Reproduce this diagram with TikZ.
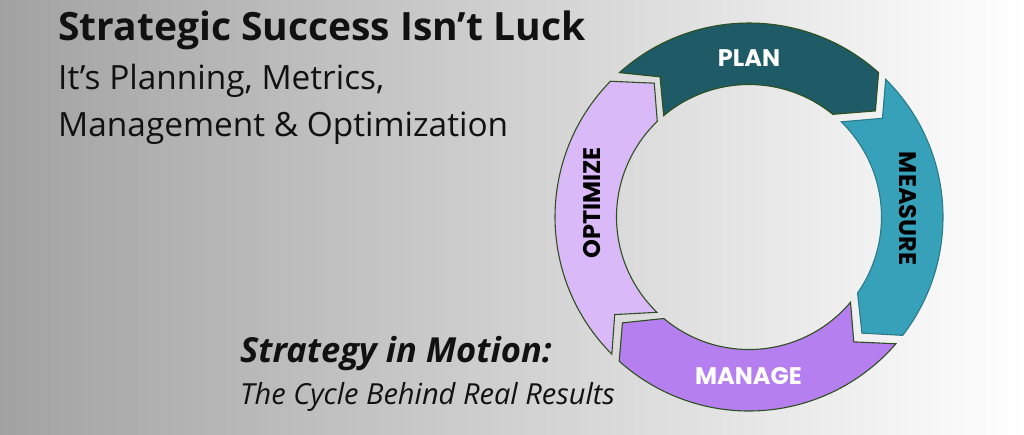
\documentclass[tikz,border=0pt]{standalone}
\usepackage{fontspec}
\setmainfont{Open Sans}
\newfontfamily\pop{Poppins}
\definecolor{bgl}{HTML}{A2A2A2}
\definecolor{plan}{HTML}{1F5B66}
\definecolor{measure}{HTML}{37A1B9}
\definecolor{manage}{HTML}{B67FEF}
\definecolor{optim}{HTML}{D9B9F8}
\definecolor{edgegreen}{HTML}{2E5020}
\definecolor{edgeteal}{HTML}{2A7A8A}
\definecolor{ink}{HTML}{111111}
\tikzset{
  seg/.style={draw=edgegreen, line width=1.1pt, line join=miter},
  lab/.style={font=\pop\bfseries\fontsize{24}{28}\selectfont, inner sep=0pt},
  title/.style={anchor=base west, inner sep=0pt, text=ink},
}
\begin{document}
\begin{tikzpicture}[x=1pt,y=1pt]
\shade[left color=bgl, right color=white] (0,0) rectangle (1024,-434);
\useasboundingbox (0,0) rectangle (1024,-434);
\begin{scope}[shift={(749,-217)}]
  % PLAN
  \filldraw[seg, fill=plan] (131.9:194) arc[start angle=131.9, end angle=48.1, radius=194]
    -- (40:165) -- (50.8:132.5) arc[start angle=50.8, end angle=130.1, radius=132.5]
    -- (122.4:166) -- cycle;
  % MEASURE
  \filldraw[seg, draw=edgeteal, fill=measure] (45.2:194) arc[start angle=45.2, end angle=-37.6, radius=194]
    -- (-45.8:162) -- (-35:132.5) arc[start angle=-35, end angle=45.9, radius=132.5]
    -- (36.5:166) -- cycle;
  % MANAGE
  \filldraw[seg, fill=manage] (-40.8:194) arc[start angle=-40.8, end angle=-132, radius=194]
    -- (-140.1:165) -- (-130:132.5) arc[start angle=-130, end angle=-40, radius=132.5]
    -- (-50:163) -- cycle;
  % OPTIMIZE
  \filldraw[seg, fill=optim] (225:194) arc[start angle=225, end angle=135.6, radius=194]
    -- (125.3:164) -- (133.8:132.5) arc[start angle=133.8, end angle=226, radius=132.5]
    -- (216:166) -- cycle;
\end{scope}
\node[lab, text=white] (plan) at (749,-58.5) {PLAN};
\node[lab, text=black, rotate=-90] (measure) at (907.5,-208.5) {MEASURE};
\node[lab, text=white] (manage) at (748.5,-376.5) {MANAGE};
\node[lab, text=black, rotate=90] (optimize) at (592,-203) {OPTIMIZE};
\node[title, font=\bfseries\fontsize{39}{44}\selectfont] (t1) at (58,-40) {Strategic Success Isn’t Luck};
\node[title, font=\fontsize{33.4}{38}\selectfont] (t2) at (58,-89) {It’s Planning, Metrics,};
\node[title, font=\fontsize{33.4}{38}\selectfont] (t3) at (58,-136) {Management \& Optimization};
\node[title, font=\bfseries\itshape\fontsize{34.5}{40}\selectfont] (t4) at (240,-362) {Strategy in Motion:};
\node[title, font=\itshape\fontsize{29}{34}\selectfont] (t5) at (240,-404) {The Cycle Behind Real Results};
\end{tikzpicture}
\end{document}
